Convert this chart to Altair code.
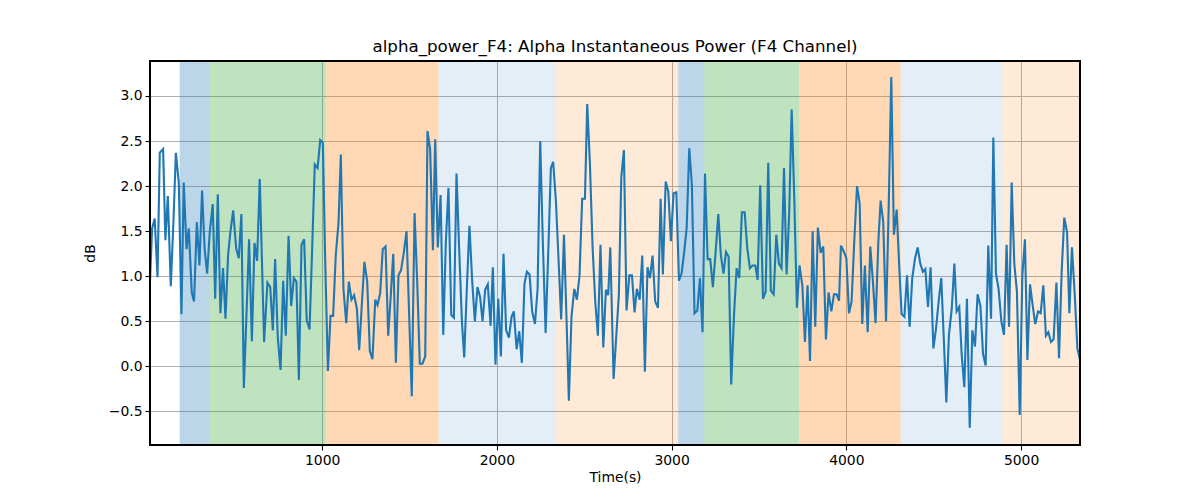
import altair as alt
import pandas as pd

# ---- data ----
time_s = [15, 27, 42, 58, 71, 90, 103, 117, 134, 149, 163, 180, 195, 208, 224, 237, 254, 267, 283, 298,
          313, 328, 342, 357, 374, 388, 403, 418, 433, 447, 462, 475, 491, 508, 523, 538, 552, 567, 582, 598,
          613, 628, 643, 668, 687, 703, 718, 731, 746, 762, 777, 792, 808, 823, 838, 853, 867, 882, 897, 912,
          928, 943, 958, 974, 989, 1004, 1017, 1033, 1048, 1063, 1078, 1094, 1107, 1122, 1138, 1153, 1168, 1183, 1199, 1212,
          1227, 1242, 1258, 1273, 1288, 1304, 1317, 1332, 1347, 1363, 1378, 1393, 1407, 1422, 1437, 1452, 1468, 1483, 1498, 1513,
          1529, 1544, 1559, 1574, 1590, 1603, 1618, 1634, 1647, 1662, 1678, 1693, 1708, 1723, 1739, 1754, 1769, 1784, 1800, 1813,
          1828, 1843, 1859, 1874, 1889, 1904, 1918, 1933, 1948, 1964, 1977, 1992, 2008, 2023, 2038, 2053, 2069, 2084, 2097, 2113,
          2128, 2143, 2158, 2172, 2187, 2202, 2218, 2233, 2248, 2263, 2279, 2294, 2309, 2322, 2338, 2353, 2368, 2384, 2399, 2412,
          2427, 2443, 2458, 2473, 2488, 2504, 2517, 2532, 2548, 2563, 2578, 2593, 2609, 2624, 2637, 2649, 2668, 2683, 2698, 2712,
          2727, 2742, 2758, 2773, 2788, 2801, 2817, 2832, 2847, 2862, 2876, 2891, 2906, 2922, 2937, 2950, 2966, 2981, 2996, 3011,
          3027, 3042, 3057, 3072, 3086, 3101, 3116, 3131, 3147, 3162, 3177, 3191, 3206, 3221, 3236, 3252, 3267, 3282, 3297, 3311,
          3326, 3341, 3357, 3372, 3387, 3402, 3418, 3433, 3448, 3463, 3479, 3492, 3507, 3523, 3538, 3553, 3568, 3584, 3599, 3614,
          3629, 3643, 3658, 3673, 3687, 3702, 3717, 3732, 3748, 3763, 3778, 3792, 3807, 3822, 3837, 3853, 3868, 3883, 3898, 3914,
          3929, 3944, 3958, 3969, 3984, 4000, 4015, 4030, 4045, 4061, 4076, 4091, 4106, 4122, 4137, 4152, 4167, 4183, 4196, 4211,
          4227, 4242, 4257, 4272, 4288, 4303, 4316, 4332, 4347, 4362, 4377, 4393, 4408, 4423, 4438, 4452, 4467, 4482, 4498, 4513,
          4528, 4543, 4559, 4572, 4587, 4603, 4618, 4631, 4646, 4660, 4675, 4690, 4706, 4721, 4736, 4751, 4767, 4782, 4797, 4812,
          4828, 4841, 4856, 4871, 4887, 4902, 4917, 4931, 4946, 4961, 4976, 4992, 5007, 5022, 5036, 5051, 5066, 5081, 5097, 5112,
          5127, 5142, 5156, 5171, 5186, 5202, 5217, 5232, 5247, 5263, 5276, 5291, 5307, 5322, 5337]

power_db = [0.94, 1.53, 1.64, 0.99, 2.37, 2.41, 1.40, 1.89, 0.89, 1.60, 2.37, 2.03, 0.58, 2.04, 1.30, 1.53, 0.82, 0.72, 1.60, 1.12,
            1.95, 1.29, 1.03, 1.49, 1.80, 0.75, 1.91, 0.59, 1.09, 0.53, 1.24, 1.49, 1.73, 1.31, 1.20, 1.69, -0.24, 0.57, 1.41, 0.28,
            1.37, 1.17, 2.08, 0.27, 0.93, 0.88, 0.40, 1.19, 0.33, -0.04, 0.95, 0.34, 1.45, 0.67, 0.98, 0.94, -0.15, 1.35, 1.41, 0.51,
            0.41, 1.31, 2.24, 2.20, 2.51, 2.48, 1.23, -0.05, 0.56, 0.56, 1.23, 1.60, 2.35, 0.86, 0.48, 0.94, 0.74, 0.79, 0.64, 0.18,
            0.68, 1.16, 0.94, 0.17, 0.08, 0.74, 0.68, 0.81, 1.30, 1.33, 0.34, 0.79, 1.25, 0.04, 1.01, 1.07, 1.27, 1.50, 0.57, -0.33,
            1.70, 0.94, 0.03, 0.03, 0.11, 2.61, 2.41, 1.29, 2.52, 1.32, 1.90, 0.35, 1.38, 1.98, 0.57, 0.54, 2.14, 1.31, 0.50, 0.10,
            0.86, 1.56, 0.94, 0.50, 0.88, 0.77, 0.50, 0.85, 0.91, 0.45, 1.10, 0.02, 0.75, 0.11, 1.25, 0.40, 0.32, 0.55, 0.61, 0.19,
            0.39, 0.04, 0.92, 1.05, 1.02, 0.61, 0.47, 0.86, 2.50, 1.38, 0.37, 1.27, 2.20, 2.27, 1.83, 1.18, 0.52, 1.46, 0.50, -0.38,
            0.55, 0.86, 0.74, 1.01, 1.86, 1.86, 2.91, 2.27, 1.31, 0.72, 0.34, 1.35, 0.21, 0.85, 0.79, 1.32, -0.14, 0.33, 0.79, 2.10,
            2.40, 0.62, 1.01, 1.01, 0.60, 0.86, 0.74, 1.23, -0.06, 1.10, 0.98, 1.23, 0.72, 0.65, 1.86, 1.02, 2.05, 1.94, 1.39, 1.92,
            1.93, 0.95, 1.03, 1.27, 1.53, 2.42, 2.01, 0.59, 0.62, 0.98, 0.38, 2.14, 1.19, 1.19, 0.88, 1.27, 1.69, 1.23, 1.03, 1.27,
            1.22, -0.20, 0.57, 1.09, 0.98, 1.71, 1.71, 1.31, 1.09, 1.12, 1.12, 0.96, 2.01, 0.75, 0.83, 2.26, 0.84, 0.80, 1.46, 1.14,
            1.09, 2.20, 1.02, 1.71, 2.85, 1.86, 0.65, 1.12, 0.90, 0.27, 0.90, 0.06, 1.50, 0.44, 1.54, 1.26, 1.33, 0.30, 0.82, 0.61,
            0.80, 0.80, 0.73, 1.34, 1.28, 1.20, 0.59, 0.72, 1.38, 2.00, 1.81, 0.47, 1.12, 0.38, 1.33, 0.94, 0.48, 1.38, 1.84, 1.60,
            0.50, 1.75, 3.21, 1.46, 1.74, 1.09, 0.58, 0.55, 1.01, 0.44, 0.98, 1.20, 1.32, 1.14, 1.05, 1.08, 0.66, 1.10, 0.20, 0.42,
            0.72, 0.98, 0.24, -0.40, 0.35, 0.64, 1.14, 0.61, 0.66, 0.13, -0.23, 0.75, -0.68, 0.40, 0.22, 0.80, 0.67, 0.14, 0.01, 1.34,
            0.53, 2.54, 1.03, 0.86, 0.50, 0.35, 1.35, 0.44, 2.04, 1.14, 0.83, -0.54, 1.01, 1.41, 0.07, 0.91, 0.68, 0.47, 0.61, 0.59,
            0.90, 0.34, 0.38, 0.27, 0.30, 0.93, 0.09, 1.05, 1.65, 1.49, 0.59, 1.32, 0.79, 0.20, 0.07]

span_start = [185, 357, 1020, 1666, 2340, 3038, 3187, 3730, 4311, 4893]
span_end = [357, 1020, 1666, 2340, 3038, 3187, 3730, 4311, 4893, 5337]
span_color = ["#1f77b4", "#2ca02c", "#ff7f0e", "#1f77b4", "#ff7f0e",
              "#1f77b4", "#2ca02c", "#ff7f0e", "#1f77b4", "#ff7f0e"]
span_alpha = [0.3, 0.3, 0.3, 0.12, 0.16, 0.3, 0.3, 0.3, 0.12, 0.16]

x_ticks = [1000, 2000, 3000, 4000, 5000]
y_ticks = [-0.5, 0.0, 0.5, 1.0, 1.5, 2.0, 2.5, 3.0]

X_DOMAIN = [15, 5337]
Y_DOMAIN = [-0.872, 3.388]

W, H = 930, 384
FONT = "DejaVu Sans"

line_df = pd.DataFrame({"t": time_s, "v": power_db})
span_df = pd.DataFrame({"s": span_start, "e": span_end, "c": span_color, "a": span_alpha})

xs = alt.Scale(domain=X_DOMAIN, nice=False, zero=False)
ys = alt.Scale(domain=Y_DOMAIN, nice=False, zero=False)

x_axis = alt.Axis(values=x_ticks, format="d", title="Time(s)", grid=True,
                  gridColor="#b0b0b0", gridWidth=1.0, tickColor="black", tickSize=5,
                  tickWidth=1.1, labelFontSize=13.9, labelColor="black", labelFont=FONT,
                  labelPadding=3, titleFont=FONT, titleFontSize=13.9,
                  titleFontWeight="normal", titleColor="black", titlePadding=4,
                  domain=False, labelFlush=False)
y_axis = alt.Axis(values=y_ticks, format=".1f", title="dB", grid=True,
                  gridColor="#b0b0b0", gridWidth=1.0, tickColor="black", tickSize=5,
                  tickWidth=1.1, labelFontSize=13.9, labelColor="black", labelFont=FONT,
                  labelPadding=3, titleFont=FONT, titleFontSize=13.9,
                  titleFontWeight="normal", titleColor="black", titlePadding=11,
                  domain=False, labelFlush=False)

spans = alt.Chart(span_df).mark_rect(clip=True).encode(
    x=alt.X("s:Q", scale=xs, axis=x_axis),
    x2="e:Q",
    y=alt.value(0),
    y2=alt.value(H),
    color=alt.Color("c:N", scale=None),
    opacity=alt.Opacity("a:Q", scale=None),
)

line = alt.Chart(line_df).mark_line(color="#1f77b4", strokeWidth=2.1, clip=True).encode(
    x=alt.X("t:Q", scale=xs),
    y=alt.Y("v:Q", scale=ys, axis=y_axis),
)

frame = alt.Chart(line_df).mark_rect(fillOpacity=0, stroke="black", strokeWidth=1.1).encode(
    x=alt.value(0), x2=alt.value(W), y=alt.value(0), y2=alt.value(H)
)

chart = alt.layer(spans, line, frame).properties(
    width=W, height=H,
    title=alt.Title("alpha_power_F4: Alpha Instantaneous Power (F4 Channel)",
                    font=FONT, fontSize=16.7, fontWeight="normal", color="black",
                    anchor="middle", frame="group", offset=5),
    autosize=alt.AutoSizeParams(type="none"),
    padding={"left": 150, "top": 61, "right": 120, "bottom": 55},
).configure_view(stroke=None)

chart.save("out.html", embed_options={"renderer": "svg", "actions": False})
